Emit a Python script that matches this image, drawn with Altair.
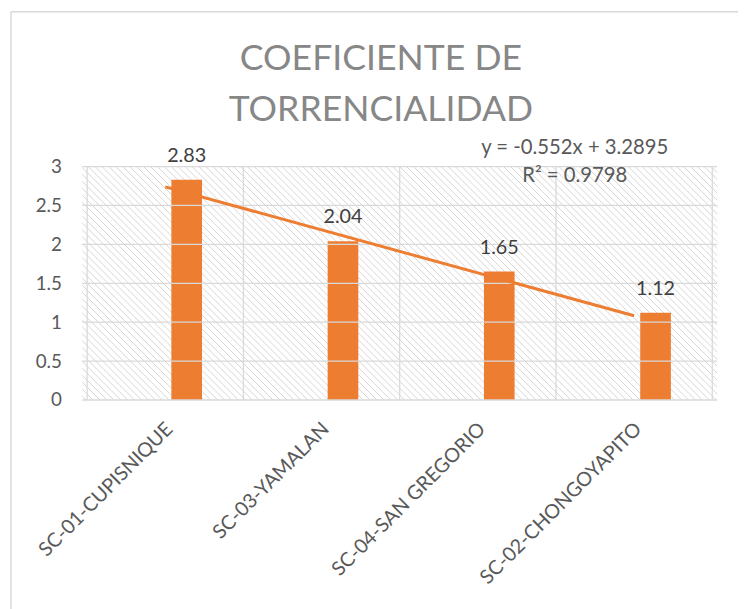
import altair as alt
import pandas as pd

categories = ["SC-01-CUPISNIQUE", "SC-03-YAMALAN", "SC-04-SAN GREGORIO", "SC-02-CHONGOYAPITO"]
values = [2.83, 2.04, 1.65, 1.12]
value_labels = ["2.83", "2.04", "1.65", "1.12"]
y_ticks = [0, 0.5, 1, 1.5, 2, 2.5, 3]
equation_lines = ["y = -0.552x + 3.2895", "R² = 0.9798"]
title_lines = ["COEFICIENTE DE", "TORRENCIALIDAD"]

n = len(categories)
df = pd.DataFrame({
    "cat": categories,
    "idx": list(range(1, n + 1)),
    "value": values,
    "label": value_labels,
})
bounds = pd.DataFrame({"b": [i + 0.5 for i in range(n + 1)]})
hgrid = pd.DataFrame({"t": y_ticks})

W, H = 642, 236
FONT = "Lato"
GRID = "#d9d9d9"
ORANGE = "#ED7D31"

xs = alt.Scale(domain=[0.5, n + 0.5], nice=False, zero=False)
ys = alt.Scale(domain=[0, 3], nice=False)

label_expr = ""
for i, c in enumerate(categories):
    label_expr += f"datum.value == {i + 1} ? '{c}' : "
label_expr += "''"

x_axis = alt.Axis(
    values=list(range(1, n + 1)),
    labelExpr=label_expr,
    labelAngle=-45,
    labelAlign="right",
    labelBaseline="middle",
    labelPadding=26,
    labelOffset=4,
    labelFont=FONT,
    labelFontSize=20,
    labelColor="#595959",
    labelLimit=400,
    ticks=False,
    domain=False,
    grid=False,
    labelOverlap=False,
    labelBound=False,
    labelFlush=False,
    title=None,
)
y_axis = alt.Axis(
    values=y_ticks,
    labelExpr="format(datum.value, '~g')",
    labelFont=FONT,
    labelFontSize=19,
    labelColor="#595959",
    labelPadding=21,
    ticks=False,
    domain=False,
    grid=False,
    labelOverlap=False,
    labelFlush=False,
    labelBound=False,
    title=None,
)

# hatch pattern of the plot background
hatch = (
    alt.Chart(alt.sequence(-H - 10, W + 10, 7, as_="s"))
    .transform_calculate(s2=f"datum.s + {H}", y0="0", y1=f"{H}")
    .mark_rule(color="#d6d6d6", strokeWidth=1, clip=True)
    .encode(
        x=alt.X("s:Q", scale=None, axis=None),
        x2="s2:Q",
        y=alt.Y("y0:Q", scale=None, axis=None),
        y2="y1:Q",
    )
)

bars = (
    alt.Chart(df)
    .transform_calculate(xb="datum.idx + 0.137")
    .mark_bar(size=31, color=ORANGE)
    .encode(
        x=alt.X("xb:Q", scale=xs, axis=x_axis),
        y=alt.Y("value:Q", scale=ys, axis=y_axis),
    )
)

vrules = alt.Chart(bounds).mark_rule(color=GRID, strokeWidth=1.3).encode(
    x=alt.X("b:Q", scale=xs, axis=x_axis)
)
hrules = alt.Chart(hgrid).mark_rule(color=GRID, strokeWidth=1.3).encode(
    y=alt.Y("t:Q", scale=ys, axis=y_axis)
)

value_text = (
    alt.Chart(df)
    .transform_calculate(xb="datum.idx + 0.137")
    .mark_text(font=FONT, fontSize=20, color="#404040", dy=-18, baseline="alphabetic")
    .encode(
        x=alt.X("xb:Q", scale=xs, axis=x_axis),
        y=alt.Y("value:Q", scale=ys, axis=y_axis),
        text="label:N",
    )
)

trend = (
    alt.Chart(df)
    .transform_regression("idx", "value")
    .mark_line(color=ORANGE, strokeWidth=3)
    .encode(
        x=alt.X("idx:Q", scale=xs, axis=x_axis),
        y=alt.Y("value:Q", scale=ys, axis=y_axis),
    )
)

eq = (
    alt.Chart(pd.DataFrame({"t": ["\n".join(equation_lines)]}))
    .mark_text(font=FONT, fontSize=20.5, color="#595959", align="center",
               baseline="alphabetic", lineBreak="\n", lineHeight=29)
    .encode(x=alt.value(498), y=alt.value(-13), text="t:N")
)

title = (
    alt.Chart(pd.DataFrame({"t": ["\n".join(title_lines)]}))
    .mark_text(font=FONT, fontSize=36, color="#878787", align="center",
               baseline="alphabetic", lineBreak="\n", lineHeight=52)
    .encode(x=alt.value(302), y=alt.value(-98), text="t:N")
)

one = pd.DataFrame({"a": [0]})
border_left = alt.Chart(one).mark_rule(color=GRID, strokeWidth=1.5).encode(
    x=alt.value(-72), y=alt.value(-156.5), y2=alt.value(H + 220)
)
border_top = alt.Chart(one).mark_rule(color=GRID, strokeWidth=1.5).encode(
    x=alt.value(-72), x2=alt.value(W + 30), y=alt.value(-156.5)
)

main = alt.layer(bars, vrules, hrules, trend, value_text, eq, title, border_left, border_top)

chart = (
    alt.layer(hatch, main)
    .resolve_scale(x="independent", y="independent")
    .properties(
        width=W,
        height=H,
        autosize="none",
        padding={"left": 75, "top": 157, "right": 21, "bottom": 208},
    )
    .configure_view(stroke=None)
)

chart.save("out.html", embed_options={"renderer": "svg", "actions": False})
